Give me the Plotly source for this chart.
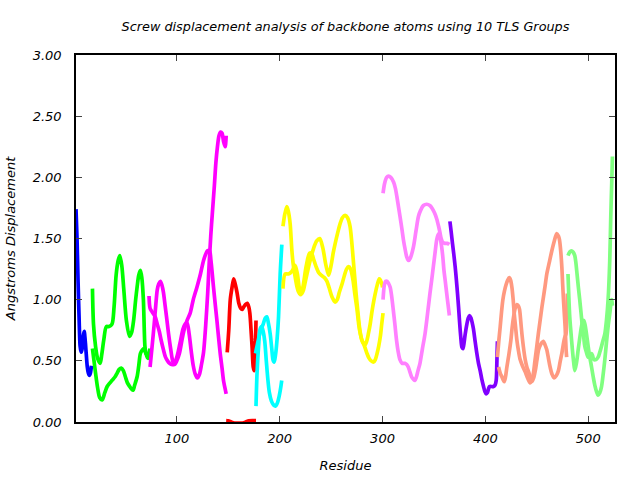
import plotly.graph_objects as go

# ---------------- data (residue, displacement) ----------------
blue_res = [2, 3, 4, 5, 6, 7, 8, 9, 10, 11, 12, 13, 14, 15, 16, 17]
blue_a = [1.74, 1.50, 1.15, 0.85, 0.62, 0.57, 0.60, 0.70, 0.74, 0.66, 0.55, 0.45, 0.40, 0.38, 0.40, 0.46]

green_res_a = [18, 19, 21, 23, 25.5, 27, 29, 31.5, 34, 37, 39, 41, 43, 44.6, 46.5, 48.5, 51, 54, 56, 58, 60,
               61.5, 63, 64.6, 66, 67.5, 69, 70, 72, 74]
green_a = [1.09, 0.80, 0.62, 0.52, 0.48, 0.55, 0.67, 0.78, 0.78, 0.80, 0.94, 1.20, 1.32, 1.36, 1.28, 1.08, 0.83,
           0.70, 0.73, 0.83, 1.00, 1.11, 1.20, 1.24, 1.18, 1.00, 0.62, 0.56, 0.52, 0.58]
green_res_b = [18, 19.5, 21, 23, 25, 27.4, 30, 32.3, 35, 37, 40, 42, 44, 46, 48, 50, 52, 54.2, 56, 57.5, 59,
               61.4, 63, 64.6, 66.5, 68, 70, 72, 74]
green_b = [0.60, 0.50, 0.40, 0.28, 0.20, 0.18, 0.24, 0.29, 0.32, 0.34, 0.37, 0.40, 0.43, 0.44, 0.42, 0.37, 0.32,
           0.29, 0.27, 0.26, 0.30, 0.37, 0.46, 0.56, 0.59, 0.60, 0.56, 0.55, 0.60]

magenta_res_a = [73, 74, 76, 79, 81, 83, 85, 87, 89, 91, 93, 95, 97, 100, 103, 106, 108, 110, 112, 114, 116,
                 118, 120, 122, 124, 126, 128, 130, 131.5, 133, 134.5, 136.5, 138, 139.5, 141, 142.5, 144,
                 145.5, 147, 148]
magenta_a = [1.03, 0.93, 0.90, 0.86, 0.80, 0.74, 0.66, 0.59, 0.53, 0.50, 0.48, 0.47, 0.47, 0.53, 0.64, 0.76,
             0.80, 0.81, 0.72, 0.58, 0.46, 0.39, 0.36, 0.39, 0.47, 0.57, 0.78, 1.05, 1.30, 1.52, 1.70, 1.93,
             2.12, 2.25, 2.34, 2.37, 2.36, 2.29, 2.25, 2.34]
magenta_res_b = [74, 76, 78, 79.5, 81, 82.5, 84, 85.5, 87, 88.5, 90, 92, 94, 96, 98, 100, 102.5, 105, 107, 110,
                 113, 116, 119.5, 123, 126, 128.5, 130, 131.8, 133.2, 135.7, 137.5, 139, 140.5, 142.2, 144,
                 145.4, 147, 148]
magenta_b = [0.45, 0.62, 0.80, 0.95, 1.08, 1.13, 1.15, 1.12, 1.06, 0.96, 0.86, 0.72, 0.60, 0.50, 0.47, 0.50,
             0.56, 0.67, 0.75, 0.83, 0.89, 1.00, 1.10, 1.21, 1.32, 1.38, 1.40, 1.40, 1.32, 1.10, 0.95, 0.83,
             0.70, 0.56, 0.44, 0.34, 0.27, 0.23]

red_res_a = [149, 150.5, 152, 153.7, 155.3, 157, 158.5, 160.3, 162, 163.6, 165, 166.7, 168.5, 170, 171, 172.4,
             173.3, 174.3, 175.3, 176.3, 177]
red_a = [0.57, 0.75, 1.00, 1.10, 1.17, 1.12, 1.06, 0.97, 0.93, 0.92, 0.94, 0.96, 0.97, 0.94, 0.89, 0.72, 0.60,
         0.45, 0.42, 0.60, 0.83]
red_res_b = [148, 150, 153, 156, 160, 164, 167, 170, 174, 177]
red_b = [0.012, 0.010, 0.000, -0.008, -0.010, -0.008, 0.000, 0.010, 0.012, 0.012]

cyan_res_a = [177, 178, 179.5, 181, 182.5, 184, 185.5, 187, 188.5, 190, 192, 194, 196, 198, 199.5, 201, 202]
cyan_a = [0.13, 0.40, 0.62, 0.76, 0.78, 0.74, 0.66, 0.50, 0.35, 0.24, 0.17, 0.14, 0.13, 0.16, 0.21, 0.28, 0.34]
cyan_res_b = [176.5, 178, 180, 182, 184, 186, 187.5, 189, 190.8, 192.3, 193.5, 194.7, 196, 197.5, 198.9, 200.5,
              202.1]
cyan_b = [0.56, 0.62, 0.70, 0.76, 0.80, 0.85, 0.86, 0.81, 0.72, 0.60, 0.51, 0.49, 0.55, 0.68, 0.86, 1.21, 1.45]

yellow_res_a = [203.2, 205, 207, 208.5, 210.2, 211.8, 213, 214, 216.7, 218.5, 220, 221.5, 223.2, 225, 229, 233,
                236, 239, 242, 245, 247.6, 250, 252, 254, 256.5, 258.7, 261, 263.6, 266, 268.4, 270, 271.6,
                273, 274.3, 276.5, 278, 279.8, 281.5, 283, 284.6, 286.2, 288, 289.5, 291.5, 293.7, 295.5,
                296.9, 298, 299.2, 300]
yellow_a = [1.60, 1.70, 1.76, 1.72, 1.62, 1.41, 1.30, 1.24, 1.11, 1.06, 1.04, 1.05, 1.08, 1.15, 1.30, 1.42, 1.48,
            1.50, 1.42, 1.28, 1.20, 1.28, 1.38, 1.46, 1.55, 1.62, 1.67, 1.69, 1.67, 1.60, 1.48, 1.32, 1.18, 1.05,
            0.86, 0.75, 0.67, 0.64, 0.63, 0.66, 0.72, 0.80, 0.89, 0.99, 1.08, 1.14, 1.17, 1.16, 1.13, 1.10]
yellow_res_b = [203.2, 205.3, 208.5, 211.8, 215, 217.2, 219, 220.5, 222.5, 225.7, 229, 231, 233, 235.4, 238,
                240.3, 243.5, 246, 248, 251, 254, 256, 258, 260.7, 263, 265, 267, 269, 271.3, 273, 275.2,
                276.8, 278.4, 280, 281.6, 283.3, 284.9, 287, 289, 291.3, 293, 294.7, 296.3, 297.9, 299.2, 300.5]
yellow_b = [1.09, 1.21, 1.21, 1.23, 1.28, 1.21, 1.10, 1.05, 1.10, 1.27, 1.38, 1.38, 1.33, 1.27, 1.22, 1.20, 1.18,
            1.15, 1.10, 1.02, 0.98, 1.00, 1.06, 1.13, 1.20, 1.25, 1.27, 1.25, 1.16, 1.05, 0.92, 0.80, 0.72,
            0.67, 0.64, 0.60, 0.56, 0.52, 0.50, 0.49, 0.51, 0.56, 0.62, 0.70, 0.80, 0.89]

pink_res_a = [300.5, 302, 304, 305.9, 308, 310.8, 312.5, 314, 315.5, 317, 318.8, 320.3, 322, 323.5, 325.2, 327,
              330, 332.5, 334.9, 337, 339.7, 343, 346, 348, 350.5, 352.7, 354.5, 355.8, 357, 358.4, 360.7, 363,
              365]
pink_a = [1.87, 1.95, 2.00, 2.01, 2.00, 1.96, 1.91, 1.84, 1.76, 1.68, 1.58, 1.49, 1.41, 1.35, 1.32, 1.34, 1.43,
          1.56, 1.68, 1.73, 1.77, 1.78, 1.77, 1.75, 1.71, 1.66, 1.60, 1.55, 1.50, 1.47, 1.46, 1.46, 1.45]
pink_res_b = [300.5, 301.8, 303, 304.5, 306, 307.5, 309, 310.4, 312, 313.6, 315.3, 316.9, 319, 321.7, 323.5, 325,
              326.6, 328.2, 330, 331.5, 333, 334.5, 336.4, 338.8, 341.3, 343.7, 346.1, 347.8, 349.4, 351,
              352.7, 354, 354.9, 356, 357.5, 358.6, 359.7, 361, 362.4, 363.7, 365]
pink_b = [1.00, 1.12, 1.15, 1.15, 1.13, 1.10, 1.02, 0.92, 0.80, 0.67, 0.57, 0.51, 0.48, 0.48, 0.47, 0.45, 0.41,
          0.37, 0.35, 0.34, 0.37, 0.42, 0.48, 0.60, 0.72, 0.88, 1.05, 1.16, 1.27, 1.38, 1.49, 1.53, 1.54, 1.51,
          1.43, 1.35, 1.24, 1.15, 1.05, 0.96, 0.87]

purple_res_a = [365.5, 366.8, 368, 369.3, 370.6, 371.8, 372.9, 373.9, 374.8, 376, 377.2, 378.2, 379.3, 380.4,
                382, 383.3, 384.6, 386, 387.2, 388.4, 390, 391.7, 393.3, 394.9, 396.5, 398.2, 399.5, 400.8,
                402, 403, 404, 406, 407.9, 409.3, 410.5, 411.2, 411.7]
purple_a = [1.64, 1.55, 1.46, 1.37, 1.27, 1.16, 1.05, 0.94, 0.83, 0.70, 0.61, 0.60, 0.65, 0.72, 0.80, 0.85, 0.87,
            0.85, 0.81, 0.76, 0.66, 0.56, 0.48, 0.42, 0.35, 0.29, 0.25, 0.23, 0.24, 0.27, 0.29, 0.29, 0.29,
            0.30, 0.34, 0.50, 0.66]

salmon_res_a = [411.7, 413, 414.4, 415.7, 417, 418.5, 420, 421.7, 423.2, 424.5, 425.8, 427, 428, 429.3, 430.6,
                432.2, 433.8, 436, 438.7, 441, 443.5, 445, 446.7, 448.3, 450, 451.6, 453.2, 454.8, 456.4, 458,
                459.7, 462, 464.6, 467, 469.4, 471, 472, 473.2, 474.3, 475.1, 475.9, 476.7, 477.5, 478.4, 479]
salmon_a = [0.53, 0.66, 0.78, 0.90, 1.00, 1.07, 1.12, 1.16, 1.18, 1.16, 1.10, 1.00, 0.89, 0.78, 0.67, 0.58, 0.51,
            0.46, 0.41, 0.36, 0.32, 0.34, 0.40, 0.51, 0.62, 0.73, 0.83, 0.93, 1.02, 1.11, 1.21, 1.30, 1.40, 1.48,
            1.54, 1.52, 1.49, 1.40, 1.27, 1.13, 1.00, 0.89, 0.78, 0.60, 0.53]
salmon_res_b = [412.8, 414.4, 416, 418.3, 419.6, 420.9, 422.8, 424.8, 426, 427.4, 429, 430.6, 432, 433.2, 434.3,
                435.5, 437, 438.7, 440.3, 442, 443.6, 445.3, 446.9, 448.5, 450, 451.7, 453.5, 455, 456.4, 458,
                459.7, 461.3, 462.9, 464.8, 466.8, 469, 471, 472.6, 474.3, 475.5, 476.5, 477.5, 478.4, 479,
                479.7]
salmon_b = [0.45, 0.40, 0.37, 0.33, 0.37, 0.45, 0.55, 0.67, 0.77, 0.86, 0.93, 0.96, 0.95, 0.92, 0.83, 0.72, 0.61,
            0.51, 0.45, 0.41, 0.37, 0.33, 0.36, 0.42, 0.50, 0.59, 0.63, 0.65, 0.66, 0.63, 0.59, 0.52, 0.45, 0.39,
            0.36, 0.38, 0.42, 0.49, 0.56, 0.62, 0.67, 0.70, 0.72, 0.85, 1.05]

lgreen_res_a = [480.3, 482, 483.6, 485.2, 486.9, 488, 489.1, 490.4, 491.7, 493, 494.3, 495.5, 496.6, 498.2,
                499.9, 501.5, 503.2, 504.3, 505.4, 507.5, 509.6, 511.2, 512.9, 514.5, 516.1, 517.7, 519.3,
                520.9, 521.9, 522.8, 523.5]
lgreen_a = [1.36, 1.39, 1.40, 1.39, 1.36, 1.30, 1.21, 1.10, 1.00, 0.89, 0.78, 0.70, 0.62, 0.57, 0.53, 0.54, 0.56,
            0.54, 0.51, 0.51, 0.53, 0.57, 0.62, 0.67, 0.72, 0.83, 1.00, 1.32, 1.68, 1.95, 2.17]
lgreen_res_b = [480.3, 481, 482, 483.3, 484.6, 485.8, 486.9, 488.5, 490.2, 491.8, 493.4, 494.5, 495.7, 497,
                498.3, 499.9, 501.5, 503.2, 504.8, 506.4, 508, 509.6, 511.2, 512.9, 514.5, 516.1, 517.7, 519.3,
                521, 522.7, 523.5]
lgreen_b = [1.21, 1.05, 0.86, 0.72, 0.59, 0.49, 0.42, 0.48, 0.59, 0.69, 0.78, 0.82, 0.83, 0.79, 0.72, 0.62, 0.53,
            0.45, 0.37, 0.30, 0.25, 0.22, 0.24, 0.29, 0.39, 0.51, 0.65, 0.78, 0.89, 1.00, 0.95]

x_ticks = [100, 200, 300, 400, 500]
y_ticks = [0.0, 0.5, 1.0, 1.5, 2.0, 2.5, 3.0]

series = [
    ("#0000ff", [(blue_res, blue_a)]),
    ("#00ff00", [(green_res_a, green_a), (green_res_b, green_b)]),
    ("#ff00ff", [(magenta_res_a, magenta_a), (magenta_res_b, magenta_b)]),
    ("#ff0000", [(red_res_a, red_a), (red_res_b, red_b)]),
    ("#00ffff", [(cyan_res_a, cyan_a), (cyan_res_b, cyan_b)]),
    ("#ffff00", [(yellow_res_a, yellow_a), (yellow_res_b, yellow_b)]),
    ("#ff80ff", [(pink_res_a, pink_a), (pink_res_b, pink_b)]),
    ("#8000ff", [(purple_res_a, purple_a)]),
    ("#ff9980", [(salmon_res_a, salmon_a), (salmon_res_b, salmon_b)]),
    ("#80ff80", [(lgreen_res_a, lgreen_a), (lgreen_res_b, lgreen_b)]),
]

fig = go.Figure()
for color, curves in series:
    for xs, ys in curves:
        fig.add_trace(go.Scatter(x=xs, y=ys, mode="lines",
                                 line=dict(color=color, width=3.7, shape="spline", smoothing=0.8),
                                 showlegend=False, hoverinfo="skip"))

FONT = "DejaVu Sans"
fig.update_layout(
    width=640, height=480,
    margin=dict(l=76, r=25, t=55, b=58),
    paper_bgcolor="white", plot_bgcolor="white",
    font=dict(family=FONT, size=13, color="black", style="italic"),
    title=dict(text="Screw displacement analysis of backbone atoms using 10 TLS Groups",
               x=0.5, xref="paper", y=1 - 27 / 480, yref="container", yanchor="middle",
               font=dict(family=FONT, size=12.8, style="italic")),
    showlegend=False,
)
fig.update_xaxes(range=[2, 526], tickvals=x_ticks, ticks="inside", ticklen=6, tickwidth=1,
                 showline=True, linecolor="black", linewidth=1.5, mirror="ticks",
                 showgrid=False, zeroline=False, ticklabelstandoff=4, automargin=False,
                 title=dict(text="Residue", standoff=16, font=dict(size=13, style="italic")))
fig.update_yaxes(range=[0, 3], tickvals=y_ticks, tickformat=".2f", ticks="inside", ticklen=6, tickwidth=1,
                 showline=True, linecolor="black", linewidth=1.5, mirror="ticks",
                 showgrid=False, zeroline=False, ticklabelstandoff=10, automargin=False,
                 title=dict(text="Angstroms Displacement", standoff=14, font=dict(size=13, style="italic")))

fig.write_html("out.html", config={"displayModeBar": False},
               post_script="document.body.style.margin='0';")
